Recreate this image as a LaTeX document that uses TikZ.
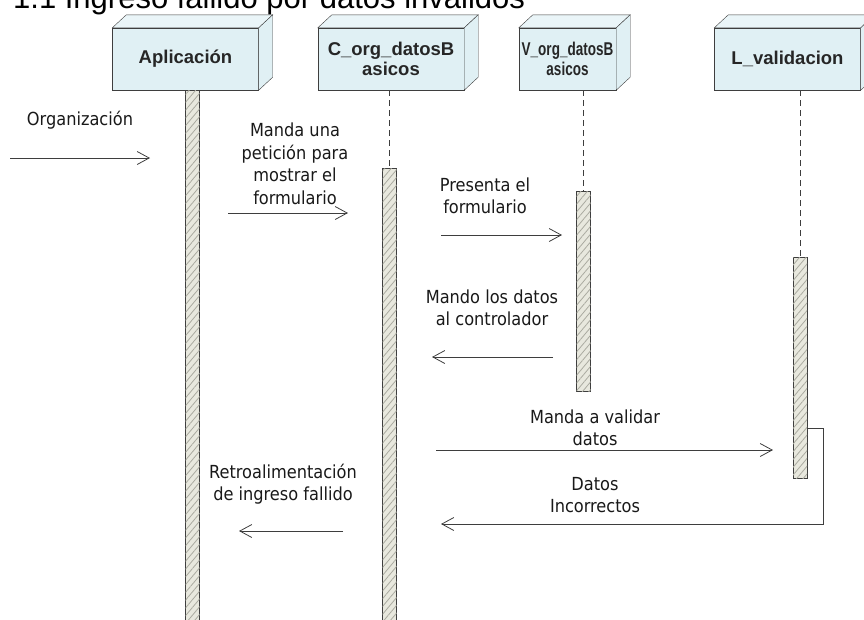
\documentclass[tikz,border=0pt]{standalone}
\usepackage{fontspec}
\setmainfont{Liberation Sans}
\newfontfamily\labelfont{DejaVu Sans Condensed}
\usepackage{graphicx}
\usepackage{xcolor}
\usepackage{tikz}
\usetikzlibrary{arrows.meta, patterns.meta, positioning}
\definecolor{headfill}{RGB}{224,240,244}
\definecolor{headtop}{RGB}{234,245,248}
\definecolor{barfill}{RGB}{232,232,222}
\definecolor{hatch}{RGB}{170,170,160}
\definecolor{linegray}{RGB}{62,62,62}
\tikzstyle{msg} = [-{Straight Barb[length=12pt, width=13pt]}, draw=linegray, line width=0.8pt]
\tikzstyle{head} = [draw=linegray, fill=headfill, font=\bfseries\fontsize{18.5}{20}\selectfont, text=black!85, align=center, inner sep=0pt, minimum height=62pt]
\tikzstyle{actbar} = [draw=linegray, fill=barfill, postaction={pattern={Lines[angle=50, distance=5pt, line width=0.8pt]}, pattern color=hatch}, minimum width=14pt, inner sep=0pt]
\tikzstyle{lifeline} = [draw=linegray, dash pattern=on 6pt off 4pt, line width=0.8pt]
\tikzstyle{msglabel} = [font=\labelfont\fontsize{18}{22.5}\selectfont, align=center, text=black!90, inner sep=0pt]
% top and side faces of a lifeline head
\newcommand{\headcube}[1]{%
  \draw[draw=linegray, fill=headtop] (#1.north west) -- ++(14,-13) -- ([shift={(14,-13)}]#1.north east) -- (#1.north east) -- cycle;
  \draw[draw=linegray, fill=headfill] (#1.north east) -- ++(14,-13) -- ([shift={(14,-13)}]#1.south east) -- (#1.south east) -- cycle;}

\begin{document}
\begin{tikzpicture}[x=1pt, y=-1pt]
    \useasboundingbox (0,0) rectangle (864,619);
    \clip (0,0) rectangle (864,619);
    \node[anchor=base west, font=\fontsize{31}{36}\selectfont, inner sep=0pt] (title) at (13,8) {1.1 Ingreso fallido por datos inválidos};

    % lifeline heads
    \node[head, minimum width=146pt] (app) at (185.5,59) {Aplicación};
    \node[head, minimum width=146pt] (ctrl) at (391,59) {C\_org\_datosB\\asicos};
    \node[head, minimum width=97pt] (view) at (567.5,59) {\scalebox{0.73}[1]{V\_org\_datosB}\\\scalebox{0.73}[1]{asicos}};
    \node[head, minimum width=146pt] (logic) at (787.5,59) {L\_validacion};
    \headcube{app}
    \headcube{ctrl}
    \headcube{view}
    \headcube{logic}

    % activation bars
    \node[actbar, minimum height=535pt] (appbar) at (192.5,357.5) {};
    \node[actbar, minimum height=457pt] (ctrlbar) at (389.5,396.5) {};
    \node[actbar, minimum height=200pt] (viewbar) at (583.5,291) {};
    \node[actbar, minimum height=221pt] (logicbar) at (800,367.5) {};
    \draw[lifeline] (ctrlbar.north |- ctrl.south) -- (ctrlbar.north);
    \draw[lifeline] (viewbar.north |- view.south) -- (viewbar.north);
    \draw[lifeline] (logicbar.north |- logic.south) -- (logicbar.north);

    % messages
    \coordinate (m1a) at (10,158);  \coordinate (m1b) at (150,158);
    \coordinate (m2a) at (228,213); \coordinate (m2b) at (348,213);
    \coordinate (m3a) at (441,235); \coordinate (m3b) at (562,235);
    \coordinate (m4a) at (553,357); \coordinate (m4b) at (432,357);
    \coordinate (m5a) at (436,450); \coordinate (m5b) at (773,450);
    \coordinate (m6a) at (823,428); \coordinate (m6b) at (823,524); \coordinate (m6c) at (441,524);
    \coordinate (m7a) at (343,531); \coordinate (m7b) at (239,531);
    \draw[msg] (m1a) -- (m1b);
    \draw[msg] (m2a) -- (m2b);
    \draw[msg] (m3a) -- (m3b);
    \draw[msg] (m4a) -- (m4b);
    \draw[msg] (m5a) -- (m5b);
    \draw[msg] (logicbar.east |- m6a) -- (m6a) -- (m6b) -- (m6c);
    \draw[msg] (m7a) -- (m7b);

    \node[msglabel] (l1) at (80,120) {Organización};
    \node[msglabel] (l2) at (295,164) {Manda una\\petición para\\mostrar el\\formulario};
    \node[msglabel] (l3) at (485,196) {Presenta el\\formulario};
    \node[msglabel] (l4) at (492,308) {Mando los datos\\al controlador};
    \node[msglabel] (l5) at (595,428) {Manda a validar\\datos};
    \node[msglabel] (l6) at (595,495) {Datos\\Incorrectos};
    \node[msglabel] (l7) at (283,484) {Retroalimentación\\de ingreso fallido};
\end{tikzpicture}
\end{document}
